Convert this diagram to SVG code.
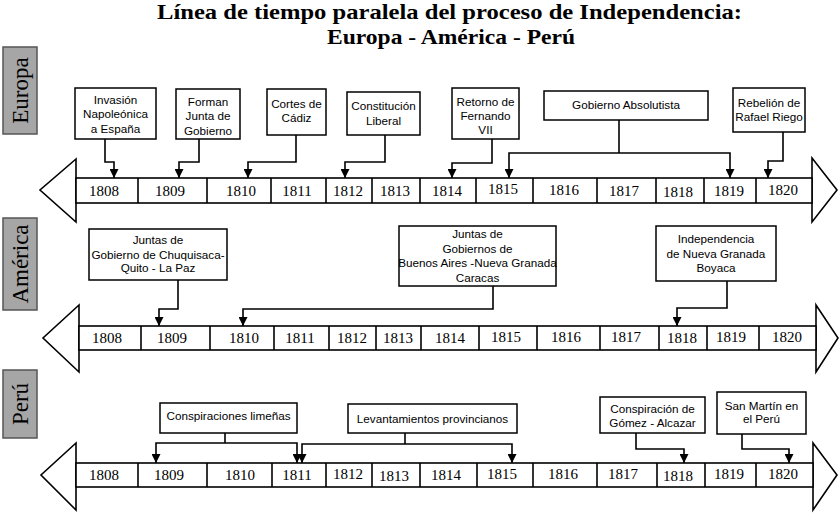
<svg xmlns="http://www.w3.org/2000/svg" width="840" height="514" viewBox="0 0 840 514">
<defs>
<style>
.title{font-family:"Liberation Serif",serif;font-weight:bold;font-size:22px;fill:#000;text-anchor:middle}
.band{fill:#fff;stroke:#000;stroke-width:1.6}
.div{stroke:#000;stroke-width:1.6}
.yr{font-family:"Liberation Serif",serif;font-size:15px;fill:#000;text-anchor:middle}
.box{fill:#fff;stroke:#000;stroke-width:1.5}
.lbl{font-family:"Liberation Sans",Arial,sans-serif;font-size:11.7px;fill:#000;text-anchor:middle}
.side{fill:#a6a6a6;stroke:#555;stroke-width:1.5}
.sidet{font-family:"Liberation Serif",serif;font-size:23px;fill:#000;text-anchor:middle}
.con{fill:none;stroke:#000;stroke-width:1.6;marker-end:url(#ah)}
.con0{fill:none;stroke:#000;stroke-width:1.6}
</style>
<marker id="ah" viewBox="0 0 10 10" refX="10" refY="5" markerUnits="userSpaceOnUse" markerWidth="10" markerHeight="9" orient="auto">
<path d="M0,0 L10,5 L0,10 z" fill="#000"/>
</marker>
</defs>
<rect width="840" height="514" fill="#fff"/>

<g id="title">
<text class="title" x="449.5" y="19" textLength="585" lengthAdjust="spacingAndGlyphs">Línea de tiempo paralela del proceso de Independencia:</text>
<text class="title" x="451" y="44" textLength="248" lengthAdjust="spacingAndGlyphs">Europa - América - Perú</text>
</g>

<!-- Side labels -->
<g id="label-europa">
<rect class="side" x="3" y="47" width="34" height="87"/>
<text class="sidet" transform="translate(28,90.5) rotate(-90)">Europa</text>
</g>
<g id="label-america">
<rect class="side" x="3" y="218" width="34" height="92"/>
<text class="sidet" transform="translate(28,264) rotate(-90)">América</text>
</g>
<g id="label-peru">
<rect class="side" x="3" y="370" width="34" height="68"/>
<text class="sidet" transform="translate(28,404) rotate(-90)">Perú</text>
</g>

<!-- Europa timeline -->
<g id="timeline-europa">
<polygon class="band" points="76,159 40,190 76,222"/>
<polygon class="band" points="812,158 837,190 812,222"/>
<rect class="band" x="76" y="178" width="736" height="25"/>
<g class="div">
<line x1="138" y1="178" x2="138" y2="203"/><line x1="207" y1="178" x2="207" y2="203"/>
<line x1="271" y1="178" x2="271" y2="203"/><line x1="326" y1="178" x2="326" y2="203"/>
<line x1="372" y1="178" x2="372" y2="203"/><line x1="420" y1="178" x2="420" y2="203"/>
<line x1="476" y1="178" x2="476" y2="203"/><line x1="533" y1="178" x2="533" y2="203"/>
<line x1="597" y1="178" x2="597" y2="203"/><line x1="656" y1="178" x2="656" y2="203"/>
<line x1="704" y1="178" x2="704" y2="203"/><line x1="756" y1="178" x2="756" y2="203"/>
</g>
<text class="yr" x="104" y="196">1808</text><text class="yr" x="170" y="196">1809</text>
<text class="yr" x="241" y="196">1810</text><text class="yr" x="297" y="196">1811</text>
<text class="yr" x="348" y="196">1812</text><text class="yr" x="395" y="196">1813</text>
<text class="yr" x="447" y="196">1814</text><text class="yr" x="503" y="194">1815</text>
<text class="yr" x="564" y="195">1816</text><text class="yr" x="624" y="196">1817</text>
<text class="yr" x="678" y="197">1818</text><text class="yr" x="729" y="196">1819</text>
<text class="yr" x="783" y="195">1820</text>
</g>

<g id="eu-invasion">
<rect class="box" x="75" y="88" width="81" height="51"/>
<text class="lbl" x="115.5" y="104">Invasión</text>
<text class="lbl" x="115.5" y="118">Napoleónica</text>
<text class="lbl" x="115.5" y="133">a España</text>
</g>
<g id="eu-junta">
<rect class="box" x="176" y="89" width="64" height="50"/>
<text class="lbl" x="208" y="106">Forman</text>
<text class="lbl" x="208" y="120">Junta de</text>
<text class="lbl" x="208" y="135">Gobierno</text>
</g>
<g id="eu-cortes">
<rect class="box" x="267" y="89" width="59" height="46"/>
<text class="lbl" x="296.5" y="108">Cortes de</text>
<text class="lbl" x="296.5" y="122">Cádiz</text>
</g>
<g id="eu-constitucion">
<rect class="box" x="347" y="92" width="73" height="43"/>
<text class="lbl" x="383.5" y="110">Constitución</text>
<text class="lbl" x="383.5" y="125">Liberal</text>
</g>
<g id="eu-retorno">
<rect class="box" x="452" y="88" width="67" height="51"/>
<text class="lbl" x="485.5" y="106">Retorno de</text>
<text class="lbl" x="485.5" y="120">Fernando</text>
<text class="lbl" x="485.5" y="134">VII</text>
</g>
<g id="eu-absolutista">
<rect class="box" x="544" y="91" width="164" height="29"/>
<text class="lbl" x="626" y="109">Gobierno Absolutista</text>
</g>
<g id="eu-riego">
<rect class="box" x="733" y="88" width="72" height="44"/>
<text class="lbl" x="769" y="107">Rebelión de</text>
<text class="lbl" x="769" y="121">Rafael Riego</text>
</g>

<!-- América timeline -->
<g id="timeline-america">
<polygon class="band" points="79,305 43,338 79,372"/>
<polygon class="band" points="816,305 838,338 816,372"/>
<rect class="band" x="79" y="326" width="737" height="24"/>
<g class="div">
<line x1="141" y1="326" x2="141" y2="350"/><line x1="210" y1="326" x2="210" y2="350"/>
<line x1="274" y1="326" x2="274" y2="350"/><line x1="329" y1="326" x2="329" y2="350"/>
<line x1="376" y1="326" x2="376" y2="350"/><line x1="421" y1="326" x2="421" y2="350"/>
<line x1="479" y1="326" x2="479" y2="350"/><line x1="537" y1="326" x2="537" y2="350"/>
<line x1="600" y1="326" x2="600" y2="350"/><line x1="659" y1="326" x2="659" y2="350"/>
<line x1="707" y1="326" x2="707" y2="350"/><line x1="759" y1="326" x2="759" y2="350"/>
</g>
<text class="yr" x="107" y="343">1808</text><text class="yr" x="172" y="343">1809</text>
<text class="yr" x="244" y="343">1810</text><text class="yr" x="300" y="343">1811</text>
<text class="yr" x="352" y="343">1812</text><text class="yr" x="398" y="343">1813</text>
<text class="yr" x="450" y="343">1814</text><text class="yr" x="506" y="342">1815</text>
<text class="yr" x="566" y="342">1816</text><text class="yr" x="626" y="342">1817</text>
<text class="yr" x="682" y="343">1818</text><text class="yr" x="731" y="342">1819</text>
<text class="yr" x="787" y="342">1820</text>
</g>

<g id="am-chuquisaca">
<rect class="box" x="89" y="229" width="138" height="51"/>
<text class="lbl" x="158" y="244">Juntas de</text>
<text class="lbl" x="158" y="259">Gobierno de Chuquisaca-</text>
<text class="lbl" x="158" y="272">Quito - La Paz</text>
</g>
<g id="am-buenosaires">
<rect class="box" x="399" y="226" width="157" height="60"/>
<text class="lbl" x="477.5" y="238">Juntas de</text>
<text class="lbl" x="477.5" y="253">Gobiernos de</text>
<text class="lbl" x="477.5" y="267">Buenos Aires -Nueva Granada</text>
<text class="lbl" x="477.5" y="282">Caracas</text>
</g>
<g id="am-boyaca">
<rect class="box" x="656" y="226" width="120" height="55"/>
<text class="lbl" x="716" y="243">Independencia</text>
<text class="lbl" x="716" y="258">de Nueva Granada</text>
<text class="lbl" x="716" y="272">Boyaca</text>
</g>

<!-- Perú timeline -->
<g id="timeline-peru">
<polygon class="band" points="76,443 41,475 76,510"/>
<polygon class="band" points="813,443 837,475 813,510"/>
<rect class="band" x="76" y="463" width="737" height="24"/>
<g class="div">
<line x1="138" y1="463" x2="138" y2="487"/><line x1="207" y1="463" x2="207" y2="487"/>
<line x1="272" y1="463" x2="272" y2="487"/><line x1="326" y1="463" x2="326" y2="487"/>
<line x1="372" y1="463" x2="372" y2="487"/><line x1="420" y1="463" x2="420" y2="487"/>
<line x1="477" y1="463" x2="477" y2="487"/><line x1="533" y1="463" x2="533" y2="487"/>
<line x1="597" y1="463" x2="597" y2="487"/><line x1="657" y1="463" x2="657" y2="487"/>
<line x1="705" y1="463" x2="705" y2="487"/><line x1="756" y1="463" x2="756" y2="487"/>
</g>
<text class="yr" x="104" y="480">1808</text><text class="yr" x="169" y="480">1809</text>
<text class="yr" x="240" y="480">1810</text><text class="yr" x="297" y="480">1811</text>
<text class="yr" x="348" y="479">1812</text><text class="yr" x="394" y="481">1813</text>
<text class="yr" x="446" y="480">1814</text><text class="yr" x="502" y="479">1815</text>
<text class="yr" x="563" y="479">1816</text><text class="yr" x="623" y="479">1817</text>
<text class="yr" x="678" y="481">1818</text><text class="yr" x="729" y="479">1819</text>
<text class="yr" x="783" y="479">1820</text>
</g>

<g id="pe-limenas">
<rect class="box" x="160" y="403" width="137" height="30"/>
<text class="lbl" x="228.5" y="420">Conspiraciones limeñas</text>
</g>
<g id="pe-provincianos">
<rect class="box" x="348" y="404" width="169" height="29"/>
<text class="lbl" x="432.5" y="423">Levantamientos provincianos</text>
</g>
<g id="pe-gomez">
<rect class="box" x="600" y="397" width="105" height="36"/>
<text class="lbl" x="652.5" y="413">Conspiración de</text>
<text class="lbl" x="652.5" y="427">Gómez - Alcazar</text>
</g>
<g id="pe-sanmartin">
<rect class="box" x="717" y="392" width="89" height="42"/>
<text class="lbl" x="761.5" y="410">San Martín en</text>
<text class="lbl" x="761.5" y="423">el Perú</text>
</g>

<!-- Connectors -->
<g id="connectors">
<polyline class="con" points="105,139 105,162 114,162 114,178"/>
<polyline class="con" points="199,139 199,162 179,162 179,178"/>
<polyline class="con" points="296,135 296,162 248,162 248,178"/>
<polyline class="con" points="385,135 385,162 345,162 345,178"/>
<polyline class="con" points="492,139 492,163 452,163 452,178"/>
<line class="con0" x1="619" y1="120" x2="619" y2="153"/>
<polyline class="con" points="619,153 509,153 509,178"/>
<polyline class="con" points="619,153 730,153 730,178"/>
<polyline class="con" points="783,132 783,161 768,161 768,178"/>

<polyline class="con" points="178,280 178,309 159,309 159,326"/>
<polyline class="con" points="493,286 493,309 243,309 243,326"/>
<polyline class="con" points="727,281 727,308 677,308 677,326"/>

<line class="con0" x1="225" y1="433" x2="225" y2="443"/>
<polyline class="con" points="225,443 156,443 156,463"/>
<polyline class="con" points="225,443 297,443 297,463"/>
<line class="con0" x1="405" y1="433" x2="405" y2="444"/>
<polyline class="con" points="405,444 302,444 302,463"/>
<polyline class="con" points="405,444 512,444 512,463"/>
<polyline class="con" points="636,433 636,449 684,449 684,463"/>
<polyline class="con" points="742,434 742,449 789,449 789,463"/>
</g>
</svg>
